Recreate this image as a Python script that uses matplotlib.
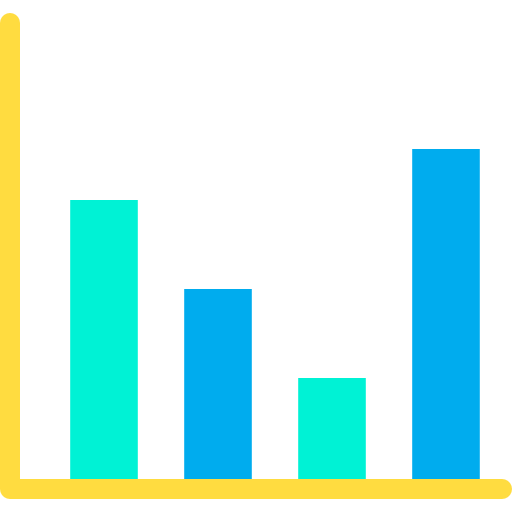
"""Icon-style bar chart: four flat bars with a thick rounded L axis."""

import matplotlib

matplotlib.use("Agg")
import matplotlib.pyplot as plt

# --- data ---
positions = [104, 218, 332, 446]
heights = [279, 190, 101, 330]
colors = ["#00F2D5", "#00ACEE", "#00F2D5", "#00ACEE"]

fig = plt.figure(figsize=(5.12, 5.12), dpi=100)
ax = fig.add_axes([0, 0, 1, 1])
ax.set_xlim(0, 512)
# y = 0 is the top of the axis band, pixel row 479
ax.set_ylim(-33, 479)
ax.axis("off")

# snap off so the edges stay antialiased like the original icon
bars = ax.bar(positions, heights, width=67.6, color=colors, zorder=2)
for b in bars:
    b.set_snap(False)

# axis drawn as one thick line with round ends
ax.plot([10, 10, 502], [456, -10, -10], color="#FFDC40", lw=14.4,
        solid_capstyle="round", solid_joinstyle="round", zorder=3)

fig.savefig("out.png", dpi=100)
